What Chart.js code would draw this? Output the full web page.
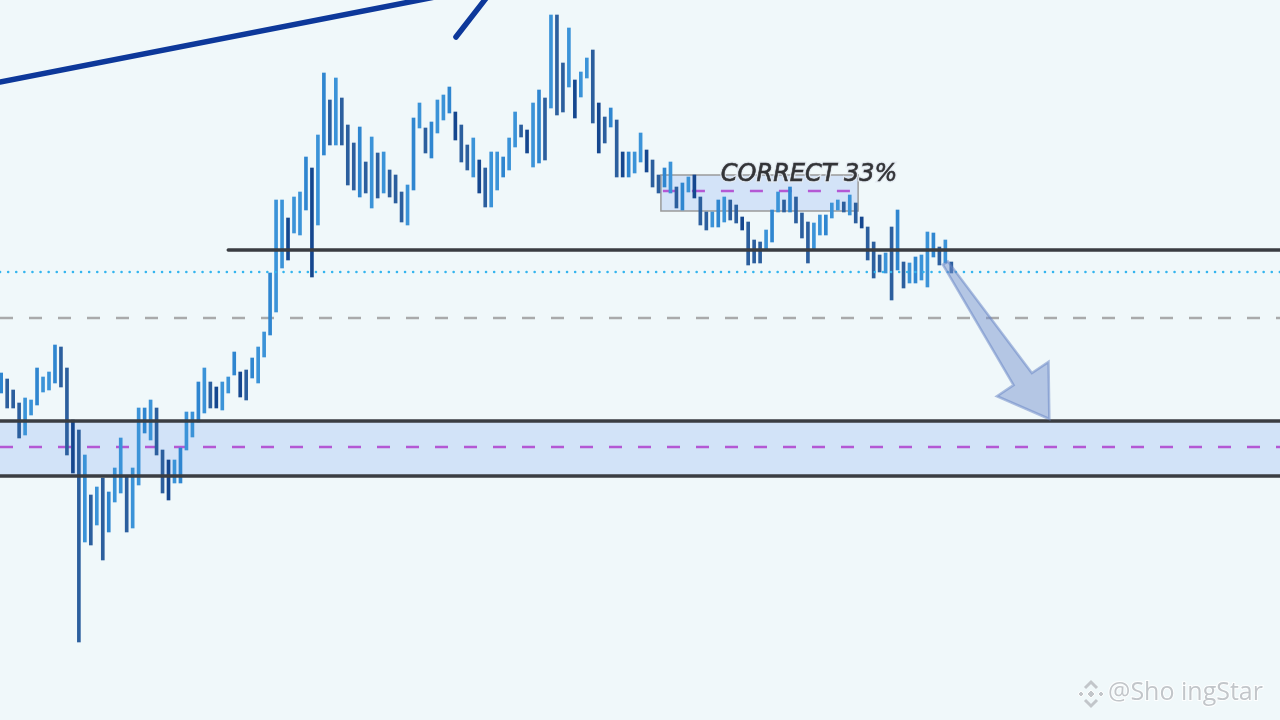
<!DOCTYPE html>
<html>
<head>
<meta charset="utf-8">
<title>CORRECT 33%</title>
<script src="https://cdn.jsdelivr.net/npm/chart.js@4.4.0/dist/chart.umd.min.js"></script>
<style>
html,body{margin:0;padding:0;background:#f0f8fa;overflow:hidden;}
</style>
</head>
<body>
<canvas id="canvas-chart-bars" width="1280" height="720"></canvas>
<script>
// bar highs / lows (chart units)
var barHigh=[347,341,330,317,322,320,352,343,348,375,373,352,300,290,265,225,233,242,228,252,
	282,243,252,312,312,320,312,270,260,260,272,308,308,338,352,338,333,338,343,368,
	348,350,362,373,388,447,520,520,502,523,528,563,552,585,647,620,642,622,595,577,
	593,558,583,567,568,550,545,528,535,602,617,592,598,620,625,633,608,595,575,582,
	560,552,568,568,563,582,608,595,590,617,630,622,705,705,657,692,640,648,662,670,
	617,603,612,600,568,568,568,587,570,560,545,552,558,533,537,543,545,523,508,508,
	520,523,520,515,503,498,480,478,490,510,528,520,533,523,507,498,497,505,505,517,
	520,518,525,517,503,493,478,465,467,493,510,458,457,463,465,488,487,473,480,458];
var barLow=[327,312,312,282,285,305,315,328,330,337,333,265,247,78,178,175,195,160,188,218,
	227,188,192,235,287,280,265,227,220,237,237,270,283,298,307,312,312,310,327,345,
	323,320,342,337,363,385,408,452,460,487,485,510,443,495,565,575,575,575,535,530,
	523,527,512,522,527,523,517,498,495,530,592,567,562,587,600,607,580,558,550,543,
	527,513,513,530,543,550,573,583,567,553,557,560,612,605,608,633,602,623,642,597,
	567,577,593,543,543,543,547,558,548,533,527,533,527,512,510,528,522,495,490,493,
	493,498,500,497,490,455,457,457,470,478,508,508,508,497,482,457,470,485,485,502,
	510,508,505,497,492,460,442,448,447,420,450,432,437,437,440,433,463,455,457,447];

// levels drawn across the chart
var levelResistance=470, resistanceFrom=38;
var levelDotted=448;
var levelDashed=402;
var zoneTop=299, zoneBottom=244, zoneMid=273;
var boxFrom=110.4, boxTo=143.4, boxTop=545, boxBottom=509, boxMid=529;
var trendA=[[-0.2,638],[74.3,725]];
var trendB=[[76.1,683],[81.3,723]];
var arrowFrom=[158.0,457], arrowTo=[175.4,301];
var labelText='CORRECT 33%', labelAt=[135.2,548];
var watermark='@Sho ingStar';

var xMin=-0.2, xMax=214, yMin=0, yMax=720;

var barData=[];
var barColors=[];
for(var i=0;i<barHigh.length;i++){
	barData.push({x:i, y:[barLow[i], barHigh[i]]});
	var mid=(barHigh[i]+barLow[i])/2;
	var prev=i>0?(barHigh[i-1]+barLow[i-1])/2:mid;
	if(mid>=prev){
		barColors.push(i%3==0?'#2f86d0':'#3b93d8');
	}else{
		barColors.push(i%4==0?'#15478f':'#2c5f9e');
	}
}

function hline(ctx, x1, x2, y, color, width, dash, cap){
	ctx.save();
	ctx.strokeStyle=color;
	ctx.lineWidth=width;
	ctx.lineCap=cap||'butt';
	ctx.setLineDash(dash||[]);
	ctx.beginPath();
	ctx.moveTo(x1,y);
	ctx.lineTo(x2,y);
	ctx.stroke();
	ctx.restore();
}

var drawingsPlugin={
	id:'drawings',
	beforeDraw:function(chart){
		var ctx=chart.ctx;
		ctx.save();
		ctx.fillStyle='#f0f8fa';
		ctx.fillRect(0,0,chart.width,chart.height);
		ctx.restore();
	},
	beforeDatasetsDraw:function(chart){
		var ctx=chart.ctx, xs=chart.scales.x, ys=chart.scales.y;
		var W=chart.width;
		// zone
		ctx.save();
		ctx.fillStyle='#d2e3f8';
		ctx.fillRect(0, ys.getPixelForValue(zoneTop), W, ys.getPixelForValue(zoneBottom)-ys.getPixelForValue(zoneTop));
		// small box
		var bx1=xs.getPixelForValue(boxFrom), bx2=xs.getPixelForValue(boxTo);
		var by1=ys.getPixelForValue(boxTop), by2=ys.getPixelForValue(boxBottom);
		ctx.fillStyle='#d3e3f8';
		ctx.fillRect(bx1,by1,bx2-bx1,by2-by1);
		ctx.strokeStyle='#9a9a9a';
		ctx.lineWidth=1.5;
		ctx.strokeRect(bx1,by1,bx2-bx1,by2-by1);
		ctx.restore();
		hline(ctx, 0, W, ys.getPixelForValue(zoneMid), '#b458d4', 2.5, [13,16]);
		hline(ctx, bx1+2, bx2-6, ys.getPixelForValue(boxMid), '#b458d4', 2.5, [13,16]);
		hline(ctx, 0, W, ys.getPixelForValue(levelDashed), '#a9aaab', 2.5, [13,16]);
	},
	afterDatasetsDraw:function(chart){
		var ctx=chart.ctx, xs=chart.scales.x, ys=chart.scales.y;
		var W=chart.width;
		hline(ctx, 0, W, ys.getPixelForValue(zoneTop), '#3a3d42', 3.5);
		hline(ctx, 0, W, ys.getPixelForValue(zoneBottom), '#3a3d42', 3.5);
		hline(ctx, xs.getPixelForValue(resistanceFrom), W, ys.getPixelForValue(levelResistance), '#3a3d42', 3.5, null, 'round');
		hline(ctx, 0, W, ys.getPixelForValue(levelDotted), '#35b5ee', 2.5, [0.1,8], 'round');

		// trend lines
		ctx.save();
		ctx.strokeStyle='#0d389a';
		ctx.lineWidth=5.5;
		ctx.lineCap='round';
		[trendA,trendB].forEach(function(t){
			ctx.beginPath();
			ctx.moveTo(xs.getPixelForValue(t[0][0]), ys.getPixelForValue(t[0][1]));
			ctx.lineTo(xs.getPixelForValue(t[1][0]), ys.getPixelForValue(t[1][1]));
			ctx.stroke();
		});
		ctx.restore();

		// arrow
		var x1=xs.getPixelForValue(arrowFrom[0]), y1=ys.getPixelForValue(arrowFrom[1]);
		var x2=xs.getPixelForValue(arrowTo[0]), y2=ys.getPixelForValue(arrowTo[1]);
		var dx=x2-x1, dy=y2-y1, L=Math.sqrt(dx*dx+dy*dy);
		var ux=dx/L, uy=dy/L, nx=-uy, ny=ux;
		var headLen=48, headHalf=31, tail=3, neck=11;
		var bxp=x2-ux*headLen, byp=y2-uy*headLen;
		ctx.save();
		ctx.beginPath();
		ctx.moveTo(x1+nx*tail, y1+ny*tail);
		ctx.lineTo(bxp+nx*neck, byp+ny*neck);
		ctx.lineTo(bxp+nx*headHalf, byp+ny*headHalf);
		ctx.lineTo(x2, y2);
		ctx.lineTo(bxp-nx*headHalf, byp-ny*headHalf);
		ctx.lineTo(bxp-nx*neck, byp-ny*neck);
		ctx.lineTo(x1-nx*tail, y1-ny*tail);
		ctx.closePath();
		ctx.fillStyle='rgba(115,145,205,0.48)';
		ctx.fill();
		ctx.strokeStyle='rgba(100,130,195,0.5)';
		ctx.lineWidth=2.5;
		ctx.stroke();
		ctx.restore();

		// label
		ctx.save();
		ctx.font='italic 24px "DejaVu Sans"';
		ctx.textAlign='center';
		ctx.textBaseline='alphabetic';
		var lx=xs.getPixelForValue(labelAt[0]), ly=ys.getPixelForValue(labelAt[1])+9;
		ctx.lineWidth=3;
		ctx.strokeStyle='rgba(225,232,240,0.9)';
		ctx.strokeText(labelText, lx, ly);
		ctx.fillStyle='#333437';
		ctx.fillText(labelText, lx, ly);
		ctx.lineWidth=0.6;
		ctx.strokeStyle='#333437';
		ctx.strokeText(labelText, lx, ly);
		ctx.restore();

		// watermark
		ctx.save();
		ctx.font='25px "Open Sans"';
		ctx.textAlign='left';
		ctx.textBaseline='middle';
		ctx.lineWidth=2;
		ctx.strokeStyle='rgba(255,255,255,0.9)';
		ctx.strokeText(watermark, 1108, 693);
		ctx.fillStyle='#c2c6ca';
		ctx.fillText(watermark, 1108, 693);
		// logo
		var cx=1091, cy=694;
		ctx.fillStyle='#c2c6ca';
		ctx.strokeStyle='rgba(255,255,255,0.9)';
		ctx.lineWidth=1;
		function diamond(px,py,r){
			ctx.beginPath();
			ctx.moveTo(px,py-r);ctx.lineTo(px+r,py);ctx.lineTo(px,py+r);ctx.lineTo(px-r,py);
			ctx.closePath();ctx.fill();ctx.stroke();
		}
		diamond(cx,cy,4);
		diamond(cx-10,cy,3);
		diamond(cx+10,cy,3);
		ctx.lineWidth=3;
		ctx.strokeStyle='#c2c6ca';
		ctx.lineJoin='miter';
		ctx.beginPath();
		ctx.moveTo(cx-6,cy-6);ctx.lineTo(cx,cy-12);ctx.lineTo(cx+6,cy-6);
		ctx.moveTo(cx-6,cy+6);ctx.lineTo(cx,cy+12);ctx.lineTo(cx+6,cy+6);
		ctx.stroke();
		ctx.restore();
	}
};

var canvasBars=document.getElementById('canvas-chart-bars').getContext('2d');
var chartBars=new Chart(canvasBars, {
	type:'bar',
	data:{
		datasets:[{
			label:'Price',
			data:barData,
			backgroundColor:barColors,
			borderWidth:0,
			barThickness:3,
			borderSkipped:false
		}]
	},
	options:{
		responsive:false,
		animation:false,
		devicePixelRatio:1,
		layout:{padding:0},
		plugins:{
			legend:{display:false},
			tooltip:{enabled:false}
		},
		scales:{
			x:{type:'linear', min:xMin, max:xMax, offset:false, display:false},
			y:{type:'linear', min:yMin, max:yMax, display:false}
		}
	},
	plugins:[drawingsPlugin]
});
</script>
</body>
</html>
